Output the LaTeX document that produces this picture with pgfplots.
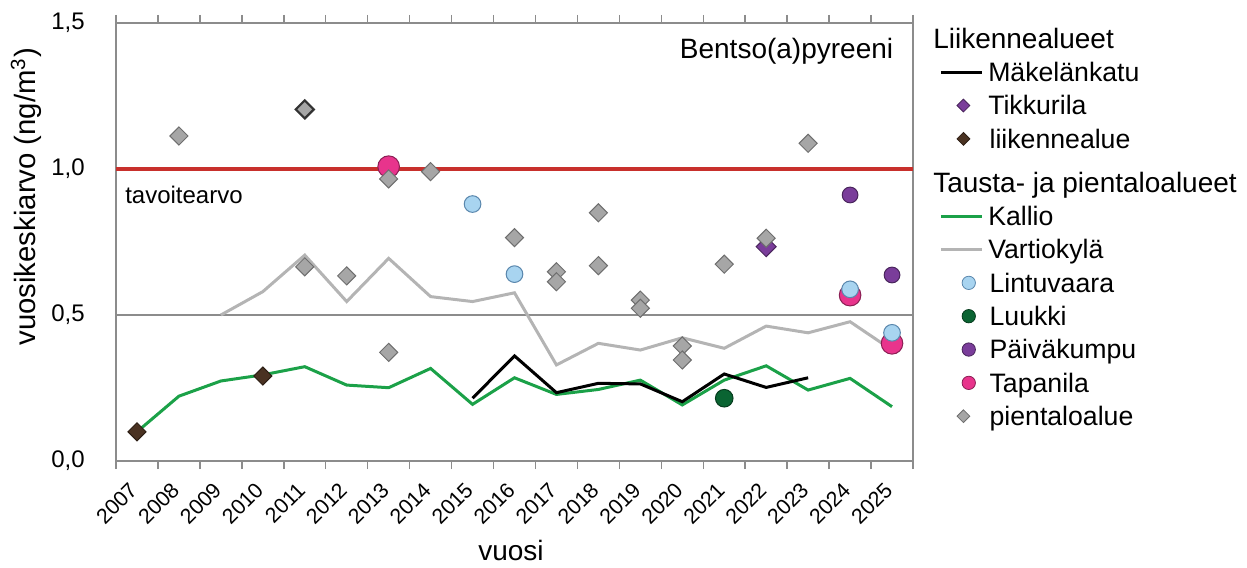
\documentclass[border=0pt]{standalone}
\usepackage{fontspec}
\setmainfont{Liberation Sans}
\usepackage{pgfplots}
\pgfplotsset{compat=1.18}
\definecolor{kallio}{HTML}{1BA148}
\definecolor{vartio}{HTML}{B4B4B4}
\definecolor{redl}{HTML}{C8302C}
\definecolor{pient}{HTML}{A6A6A6}
\definecolor{piented}{HTML}{6E6E6E}
\definecolor{lintu}{HTML}{A8D4F0}
\definecolor{lintued}{HTML}{5A87AD}
\definecolor{luukki}{HTML}{0A6432}
\definecolor{paiva}{HTML}{7A3D9A}
\definecolor{tapa}{HTML}{E8348C}
\definecolor{liik}{HTML}{4A3222}
\definecolor{axgray}{HTML}{8C8C8C}
\pgfplotsset{
  linelegend/.style={legend image code/.code={\draw[##1] (0pt,0pt) -- (31pt,0pt);}},
  diamlegend/.style={legend image code/.code={\path[##1] plot[only marks] coordinates {(17pt,0pt)};}},
  circlegend/.style={legend image code/.code={\path[##1] plot[only marks] coordinates {(21pt,0pt)};}},
  headlegend/.style={legend image code/.code={}},
}
\begin{document}
\begin{tikzpicture}
\begin{axis}[
  scale only axis, width=597.75pt, height=328.5pt,
  xmin=-0.5, xmax=18.5, ymin=0, ymax=1.5,
  axis line style={axgray, line width=1.1pt},
  xtick={0,...,18},
  xticklabels={2007,2008,2009,2010,2011,2012,2013,2014,2015,2016,2017,2018,2019,2020,2021,2022,2023,2024,2025},
  minor xtick={-0.5,0.5,...,18.5},
  tick align=outside, major tick length=0pt, minor tick length=6pt,
  minor tick style={axgray, line width=1.1pt},
  major tick style={draw=none},
  ytick={0,0.5,1,1.5},
  ymajorgrids, grid style={axgray, line width=0.9pt},
  /pgf/number format/assume math mode=true,
  /pgf/number format/use comma,
  /pgf/number format/fixed,
  /pgf/number format/fixed zerofill,
  /pgf/number format/precision=1,
  yticklabel style={font=\fontsize{18}{20}\selectfont, anchor=east, xshift=-20pt},
  xticklabel style={font=\fontsize{16}{20}\selectfont, inner sep=0pt, xshift=-2.5pt, yshift=-19pt, rotate=45, anchor=east},
  xlabel={vuosi},
  xlabel style={font=\fontsize{21}{24}\selectfont, at={(axis description cs:0.4956,0)}, anchor=center, yshift=-66.75pt},
  ylabel={vuosikeskiarvo (ng/m\textsuperscript{3})},
  ylabel style={font=\fontsize{22}{24}\selectfont, at={(axis description cs:-0.113,0.603)}, anchor=center},
  legend cell align=left,
  legend style={at={(rel axis cs:1,1)}, anchor=north west, xshift=19.5pt, yshift=-1.7pt,
    draw=none, fill=none, inner sep=0pt, column sep=3.5pt, row sep=5pt,
    font=\fontsize{20}{24}\selectfont,
    nodes={inner sep=0pt, text height=17pt, text depth=3pt}},
  clip=false,
]
\coordinate (bl) at (rel axis cs:0,0);
% lines
\addplot[forget plot, kallio, line width=2.25pt] coordinates {
 (0,0.100) (1,0.222) (2,0.274) (3,0.295) (4,0.323) (5,0.260) (6,0.251) (7,0.317) (8,0.194) (9,0.285)
 (10,0.228) (11,0.245) (12,0.277) (13,0.192) (14,0.277) (15,0.326) (16,0.243) (17,0.283) (18,0.186)};
\addplot[forget plot, vartio, line width=2.25pt] coordinates {
 (2,0.500) (3,0.580) (4,0.705) (5,0.546) (6,0.694) (7,0.563) (8,0.546) (9,0.576)
 (10,0.329) (11,0.403) (12,0.380) (13,0.422) (14,0.386) (15,0.462) (16,0.439) (17,0.477) (18,0.380)};
\addplot[forget plot, black, line width=2.25pt] coordinates {
 (8,0.215) (9,0.360) (10,0.234) (11,0.266) (12,0.264) (13,0.203) (14,0.298) (15,0.252) (16,0.285)};
\addplot[forget plot, redl, line width=3pt] coordinates {(-0.5,1) (18.5,1)};
% markers
\addplot[forget plot, only marks, mark=*, mark size=8.1pt, mark options={fill=tapa, draw=tapa!60!black, line width=0.75pt}] coordinates {(6,1.008) (17,0.568) (18,0.403)};
\addplot[forget plot, only marks, mark=*, mark size=6.25pt, mark options={fill=lintu, draw=lintued, line width=0.75pt}] coordinates {(8,0.880) (9,0.640) (17,0.588) (18,0.439)};
\addplot[forget plot, only marks, mark=*, mark size=5.9pt, mark options={fill=paiva, draw=paiva!60!black, line width=0.75pt}] coordinates {(17,0.911) (18,0.637)};
\addplot[forget plot, only marks, mark=*, mark size=6.6pt, mark options={fill=luukki, draw=luukki!60!black, line width=0.75pt}] coordinates {(14,0.215)};
\addplot[forget plot, only marks, mark=square*, mark size=5.3pt, mark options={rotate=45, fill=paiva, draw=paiva!60!black, line width=0.75pt}] coordinates {(15,0.734)};
\addplot[forget plot, only marks, mark=square*, mark size=4.8pt, mark options={rotate=45, fill=pient, draw=piented, line width=0.75pt}] coordinates {
 (1,1.113) (4,0.665) (5,0.634) (6,0.966) (6,0.372) (7,0.991) (9,0.765) (10,0.648) (10,0.614) (11,0.850) (11,0.669)
 (12,0.551) (12,0.523) (13,0.394) (13,0.346) (14,0.674) (15,0.763) (16,1.088)};
\addplot[forget plot, only marks, mark=square*, mark size=4.8pt, mark options={rotate=45, fill=pient, draw=black!80, line width=1.6pt}] coordinates {(4,1.204)};
\addplot[forget plot, only marks, mark=square*, mark size=4.8pt, mark options={rotate=45, fill=liik, draw=liik!60!black, line width=0.75pt}] coordinates {(0,0.100) (3,0.291)};
% texts
\node[anchor=base east, font=\fontsize{21}{24}\selectfont] at (rel axis cs:0.981,0.918) {Bentso(a)pyreeni};
\node[anchor=base west, font=\fontsize{18}{20}\selectfont, inner sep=0pt] at (rel axis cs:0.0113,0.589) {tavoitearvo};
% legend
\addlegendimage{headlegend}
\addlegendentry[font=\fontsize{21}{24}\selectfont]{\hspace*{-41.25pt}Liikennealueet}
\addlegendimage{linelegend, black, line width=2.25pt}
\addlegendentry{Mäkelänkatu}
\addlegendimage{diamlegend, mark=square*, mark size=3.4pt, mark options={rotate=45, fill=paiva, draw=paiva!60!black, line width=0.6pt}}
\addlegendentry{Tikkurila}
\addlegendimage{diamlegend, mark=square*, mark size=3.4pt, mark options={rotate=45, fill=liik, draw=liik!60!black, line width=0.6pt}}
\addlegendentry{\hspace*{1pt}liikennealue}
\addlegendimage{headlegend}
\addlegendentry[font=\fontsize{21}{24}\selectfont, text height=25pt]{\hspace*{-41.25pt}Tausta- ja pientaloalueet}
\addlegendimage{linelegend, kallio, line width=2.25pt}
\addlegendentry{Kallio}
\addlegendimage{linelegend, vartio, line width=2.25pt}
\addlegendentry{Vartiokylä}
\addlegendimage{circlegend, mark=*, mark size=5pt, mark options={fill=lintu, draw=lintued, line width=0.6pt}}
\addlegendentry{\hspace*{1pt}Lintuvaara}
\addlegendimage{circlegend, mark=*, mark size=5pt, mark options={fill=luukki, draw=luukki!60!black, line width=0.6pt}}
\addlegendentry{\hspace*{1pt}Luukki}
\addlegendimage{circlegend, mark=*, mark size=5pt, mark options={fill=paiva, draw=paiva!60!black, line width=0.6pt}}
\addlegendentry{\hspace*{1pt}Päiväkumpu}
\addlegendimage{circlegend, mark=*, mark size=5pt, mark options={fill=tapa, draw=tapa!60!black, line width=0.6pt}}
\addlegendentry{\hspace*{1pt}Tapanila}
\addlegendimage{diamlegend, mark=square*, mark size=3.4pt, mark options={rotate=45, fill=pient, draw=piented, line width=0.6pt}}
\addlegendentry{\hspace*{1pt}pientaloalue}
\end{axis}
\pgfresetboundingbox
\path[use as bounding box] ([xshift=-87pt,yshift=-80.25pt]bl) rectangle ++(935.25pt,426pt);
\end{tikzpicture}
\end{document}
